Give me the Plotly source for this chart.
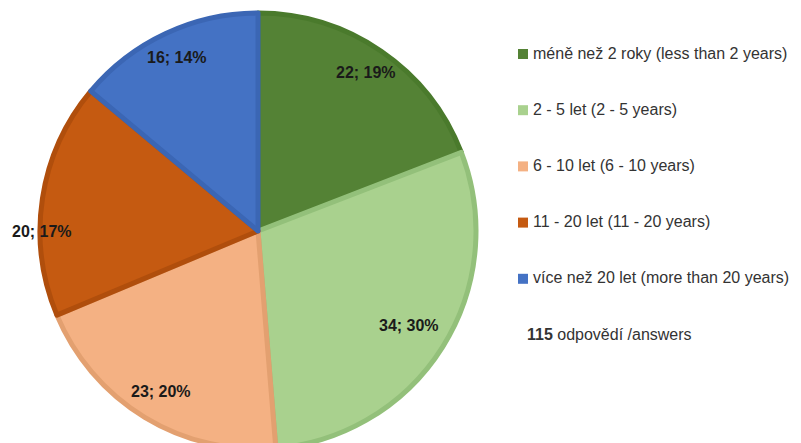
import math
import plotly.graph_objects as go

W, H = 801, 443
OFF = 8  # page body margin in the browser

categories = [
    "méně než 2 roky (less than 2 years)",
    "2 - 5 let (2 - 5 years)",
    "6 - 10 let (6 - 10 years)",
    "11 - 20 let (11 - 20 years)",
    "více než 20 let (more than 20 years)",
]
counts = [22, 34, 23, 20, 16]
total_answers = 115

fill_colors = ["#548235", "#a9d18e", "#f4b183", "#c55a11", "#4472c4"]
edge_colors = ["#4a7a2c", "#93c07a", "#e3a070", "#b04e0c", "#3b66b4"]


def px(x):
    return (x - OFF) / W


def py(y):
    return 1 - (y - OFF) / H


# pie geometry (screen pixels)
CX, CY, R = 258, 231, 218

fig = go.Figure()
fig.add_trace(go.Pie(
    labels=categories,
    values=counts,
    sort=False,
    direction="clockwise",
    rotation=0,
    marker=dict(colors=fill_colors, line=dict(color=edge_colors, width=5)),
    textinfo="none",
    hoverinfo="label+value+percent",
    showlegend=False,
    domain=dict(x=[px(CX - R), px(CX + R)], y=[py(CY + R), py(CY - R)]),
))

# data labels, placed from the slice angles
label_r = [0.88, 0.82, 0.86, 1.0, 0.88]
label_dy = [0, 0, 0, -33, 0]
tot = sum(counts)
cum = 0
for i, v in enumerate(counts):
    ang = math.radians((cum + v / 2) / tot * 360)
    cum += v
    lx = CX + R * label_r[i] * math.sin(ang)
    ly = CY - R * label_r[i] * math.cos(ang) - label_dy[i]
    pct = round(v / tot * 100)
    fig.add_annotation(
        x=px(lx), y=py(ly), xref="paper", yref="paper",
        xanchor="center", yanchor="middle",
        text=f"<b>{v}; {pct}%</b>", showarrow=False,
        font=dict(family="Liberation Sans", size=16, color="#1a1a1a"),
    )

# legend
LX, LY0, STEP = 523, 53, 56.2
for i, (name, col) in enumerate(zip(categories, fill_colors)):
    y = LY0 + i * STEP
    fig.add_shape(type="rect", xref="paper", yref="paper",
                  x0=px(LX - 5), x1=px(LX + 5),
                  y0=py(y + 6), y1=py(y - 4),
                  fillcolor=col, line=dict(width=0))
    fig.add_annotation(x=px(LX + 8), y=py(y), xref="paper", yref="paper",
                       xanchor="left", yanchor="middle", text=name, showarrow=False,
                       font=dict(family="Liberation Sans", size=16, color="#333"))

fig.add_annotation(x=px(LX + 2), y=py(LY0 + 5 * STEP), xref="paper", yref="paper",
                   xanchor="left", yanchor="middle",
                   text=f"<b>{total_answers}</b> odpovědí /answers",
                   showarrow=False,
                   font=dict(family="Liberation Sans", size=16, color="#333"))

fig.update_layout(
    width=W, height=H,
    margin=dict(l=0, r=0, t=0, b=0),
    paper_bgcolor="white",
    plot_bgcolor="white",
)

fig.write_html("out.html")
